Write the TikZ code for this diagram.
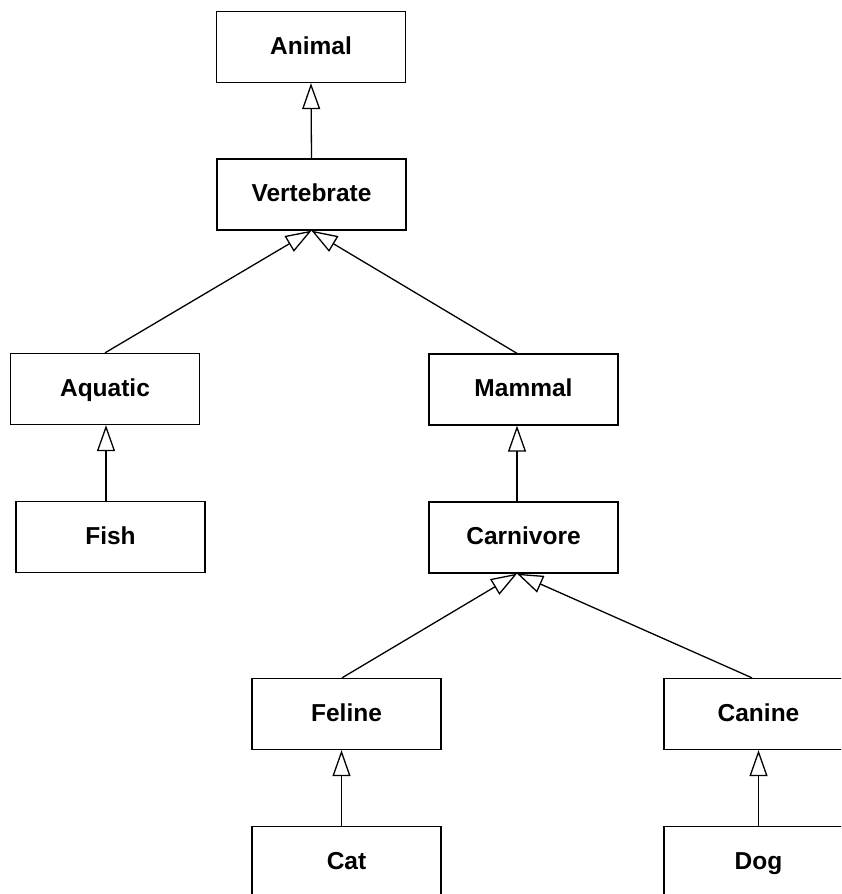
\documentclass[tikz,border=0pt]{standalone}
\usepackage{fontspec}
\setmainfont{Liberation Sans}
\usetikzlibrary{arrows.meta}
\begin{document}
\begin{tikzpicture}[x=1pt,y=-1pt,
  cls/.style={draw, line width=1.3pt, rectangle, minimum width=189pt, minimum height=71pt,
    inner sep=0pt, text height=17pt, text depth=2.5pt,
    font=\fontsize{24.5}{28}\selectfont\bfseries},
  gen/.style={line width=1.3pt, -{Triangle[open,length=26pt,width=18pt,fill=white]}}]
  \useasboundingbox (0,0) rectangle (841,894);
  \clip (0,0) rectangle (841,894);
  % class boxes
  \node[cls] (animal)  at (311,   47)   {Animal};
  \node[cls] (vert)    at (311.5, 194.5) {Vertebrate};
  \node[cls] (aquatic) at (105,   389)  {Aquatic};
  \node[cls] (mammal)  at (523.5, 389.5) {Mammal};
  \node[cls] (fish)    at (110.5, 537)  {Fish};
  \node[cls] (carn)    at (523.5, 537.5) {Carnivore};
  \node[cls] (feline)  at (346.5, 714)  {Feline};
  \node[cls] (canine)  at (758.5, 714)  {Canine};
  \node[cls] (cat)     at (346.5, 862)  {Cat};
  \node[cls] (dog)     at (758.5, 862)  {Dog};
  % generalisation links
  \draw[gen] (vert.north) -- (animal.south);
  \draw[gen] (aquatic.north) -- (vert.south);
  \draw[gen] ([xshift=-6.5pt]mammal.north) -- (vert.south);
  \draw[gen] ([xshift=-4.5pt]fish.north) -- ([xshift=-4.5pt]fish.north |- aquatic.south);
  \draw[gen] ([xshift=-6.5pt]carn.north) -- ([xshift=-6.5pt]mammal.south);
  \draw[gen] ([xshift=-4.5pt]feline.north) -- ([xshift=-6.5pt]carn.south);
  \draw[gen] ([xshift=-6.5pt]canine.north) -- ([xshift=-6.5pt]carn.south);
  \draw[gen] ([xshift=-5pt]cat.north) -- ([xshift=-5pt]feline.south);
  \draw[gen] (dog.north) -- (canine.south);
\end{tikzpicture}
\end{document}
